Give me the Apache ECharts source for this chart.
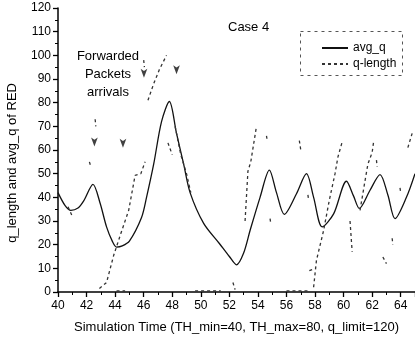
<!DOCTYPE html>
<html>
<head>
<meta charset="utf-8">
<script src="https://cdn.jsdelivr.net/npm/echarts@6/dist/echarts.min.js"></script>
<style>
  html, body { margin: 0; padding: 0; background: #fff; }
  #chart { width: 415px; height: 341px; }
</style>
</head>
<body>
<div id="chart"></div>
<script>
// avg_q of RED (smooth curve)
var avgTime = [40, 40.5, 40.9, 41.4, 41.8, 42.45, 42.95, 43.4, 43.8, 44.1, 44.5, 45.0, 45.85, 46.2, 46.7, 47.25, 47.8, 48.3, 48.8, 49.25, 50.2, 51.3, 52.0, 52.5, 53.0, 53.45, 54.15, 54.8, 55.3, 55.85, 56.7, 57.4, 57.9, 58.5, 59.3, 60.2, 60.7, 61.1, 61.85, 62.55, 63.1, 63.6, 64.4, 65];
var avgQ = [42, 36.5, 34.5, 35.5, 38.5, 45.5, 37.5, 27.5, 21.5, 19, 19.5, 21.5, 31.5, 40, 54, 72, 80.5, 67, 54, 42, 29, 20.5, 15, 11.5, 16.5, 26, 40, 51.5, 42, 32.8, 41.5, 50, 40, 27.5, 33, 46.8, 40.5, 35.3, 43, 49.6, 41, 31, 40, 50];

// q-length samples (null = gap between visible dashes)
var qTime = [40.7, 41.0, null, 42.2, 42.3, null, 42.6, 42.65, null, 42.9, 43.4, 43.9, 44.4, 44.95, 45.4, 45.8, 46.1, null, 44.1, 44.7, null, 46.0, 46.05, null, 46.3, 46.7, 47.1, 47.6, null, 47.7, 48.0, null, 48.2, 48.6, 49.0, 49.3, null, 49.6, 51.4, null, 52.25, 52.4, null, 53.1, 53.3, 53.5, 53.9, null, 54.6, 54.65, null, 54.85, 54.9, null, 56.0, 57.5, null, 56.9, 57.0, null, 57.5, 57.55, null, 57.6, 58.0, null, 57.9, 58.1, 58.6, 59.0, 59.4, 59.6, 59.9, null, 60.45, 60.6, null, 61.15, 61.5, 61.7, 62.0, 62.1, null, 62.3, 62.35, null, 62.75, 63.0, null, 63.4, 63.45, null, 63.95, 64.0, null, 64.5, 64.8];
var qLen = [36, 32, null, 55, 53, null, 73, 70, null, 1.5, 4, 15.5, 24.7, 34.5, 49.3, 50, 55, null, 0.5, 0.5, null, 98, 95, null, 81, 88, 94, 100, null, 63, 58, null, 70, 58, 50, 42, null, 0.5, 0.5, null, 4, 1, null, 30, 51, 55, 70, null, 66, 64, null, 31, 29, null, 0.5, 0.5, null, 64, 60, null, 41, 39, null, 9, 10, null, 2, 13.4, 26, 38.8, 50, 57, 63.4, null, 30, 17, null, 34.5, 47, 54, 59, 63.4, null, 55.7, 53, null, 14.8, 12, null, 22.7, 20, null, 44, 42, null, 61, 67];

// "Forwarded Packets arrivals" arrow marks
var arrowTime = [42.55, 44.55, 46.02, 48.3];
var arrowQ = [61.5, 61, 90.5, 92];

var xTicks = { min: 40, max: 65, step: 2 };
var yTicks = { min: 0, max: 120, step: 10 };

function pairs(xs, ys) {
  return xs.map(function (x, i) {
    return (x === null || ys[i] === null) ? [null, null] : [x, ys[i]];
  });
}

var chart = echarts.init(document.getElementById('chart'));
var font = 'Liberation Sans, Arial, sans-serif';

chart.setOption({
  animation: false,
  backgroundColor: '#fff',
  textStyle: { fontFamily: font, color: '#000' },
  grid: { left: 58, right: 0, top: 8, bottom: 49 },
  legend: {
    orient: 'vertical',
    left: 316,
    top: 37,
    itemWidth: 26,
    itemHeight: 8,
    itemGap: 4,
    itemStyle: { opacity: 0 },
    textStyle: { fontSize: 12, color: '#000', fontFamily: font },
    data: ['avg_q', 'q-length']
  },
  xAxis: {
    type: 'value',
    min: xTicks.min, max: xTicks.max, interval: xTicks.step,
    name: 'Simulation Time (TH_min=40, TH_max=80, q_limit=120)',
    nameLocation: 'middle',
    nameGap: 29,
    nameTextStyle: { fontSize: 13, color: '#000' },
    axisLine: { lineStyle: { color: '#000', width: 1.5 } },
    axisTick: { length: 5, lineStyle: { color: '#000', width: 1.3 } },
    minorTick: { show: true, splitNumber: 2, length: 3, lineStyle: { color: '#000', width: 1 } },
    axisLabel: { fontSize: 12, color: '#000', margin: 8, showMaxLabel: false },
    splitLine: { show: false }
  },
  yAxis: {
    type: 'value',
    min: yTicks.min, max: yTicks.max, interval: yTicks.step,
    axisLine: { show: true, lineStyle: { color: '#000', width: 1.5 } },
    axisTick: { show: true, length: 5, lineStyle: { color: '#000', width: 1.3 } },
    minorTick: { show: true, splitNumber: 2, length: 3, lineStyle: { color: '#000', width: 1 } },
    axisLabel: { fontSize: 12, color: '#000', margin: 7 },
    splitLine: { show: false }
  },
  graphic: [
    {
      type: 'text', left: 6, top: 83, rotation: Math.PI / 2,
      style: { text: 'q_length and avg_q of RED', font: '13px ' + font, fill: '#000' }
    },
    {
      type: 'text', left: 228, top: 21,
      style: { text: 'Case 4', font: '13px ' + font, fill: '#000' }
    },
    {
      type: 'text', x: 108, y: 47,
      style: { text: 'Forwarded\nPackets\narrivals', font: '13px ' + font, fill: '#000', align: 'center', lineHeight: 18 }
    },
    {
      type: 'rect', shape: { x: 300.5, y: 31.5, width: 102, height: 44 },
      style: { fill: 'none', stroke: '#555', lineWidth: 1, lineDash: [3, 4] }
    }
  ],
  series: [
    {
      name: 'avg_q',
      type: 'line',
      smooth: 0.3,
      symbol: 'none',
      data: pairs(avgTime, avgQ),
      lineStyle: { color: '#111', width: 1.3 },
      itemStyle: { color: '#111' }
    },
    {
      name: 'q-length',
      type: 'line',
      symbol: 'none',
      connectNulls: false,
      data: pairs(qTime, qLen),
      lineStyle: { color: '#333', width: 1.3, type: [3, 3] },
      itemStyle: { color: '#333' }
    },
    {
      name: 'arrivals',
      type: 'scatter',
      symbol: 'arrow',
      symbolRotate: 180,
      symbolSize: [5, 9],
      data: pairs(arrowTime, arrowQ),
      itemStyle: { color: '#111' }
    }
  ]
});
</script>
</body>
</html>
